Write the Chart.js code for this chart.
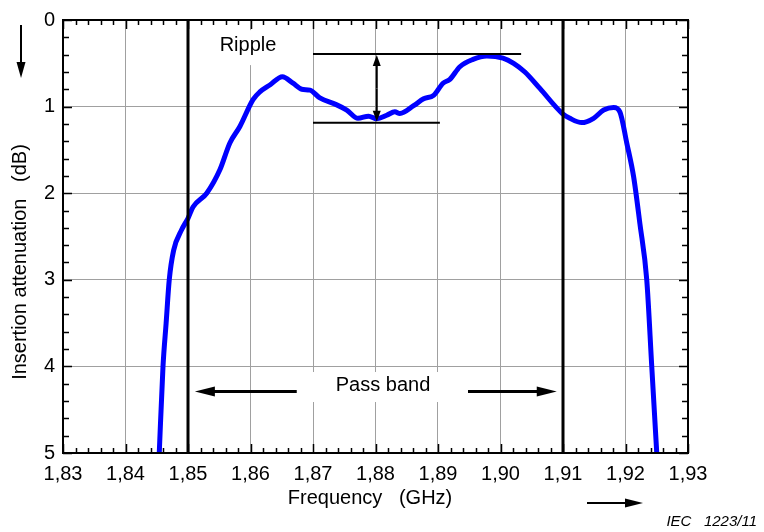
<!DOCTYPE html>
<html>
<head>
<meta charset="utf-8">
<script src="https://cdn.jsdelivr.net/npm/chart.js@4.4.1/dist/chart.umd.min.js"></script>
<style>
  html, body { margin: 0; padding: 0; background: #fff; }
  canvas { display: block; }
</style>
</head>
<body>
<canvas id="chart" width="764" height="532"></canvas>
<script>
const freqGHz = [
  1.8454, 1.8460, 1.8465, 1.8470, 1.8477, 1.8490, 1.8500, 1.8508, 1.8530, 1.8551,
  1.8567, 1.8583, 1.8604, 1.8615, 1.8631, 1.8651, 1.8668, 1.8682, 1.8695, 1.8711,
  1.8738, 1.8754, 1.8772, 1.8789, 1.8802, 1.8818, 1.8831, 1.8839, 1.8861, 1.8877,
  1.8893, 1.8908, 1.8919, 1.8935, 1.8956, 1.8978, 1.9004, 1.9021, 1.9039, 1.9063,
  1.9099, 1.9111, 1.9130, 1.9149, 1.9165, 1.9181, 1.9191, 1.9202, 1.9213, 1.9223,
  1.9234, 1.9242, 1.9250
]
const attenuationDb = [
  5.00, 4.00, 3.50, 3.00, 2.66, 2.42, 2.29, 2.16, 2.00, 1.73,
  1.42, 1.23, 0.92, 0.83, 0.75, 0.655, 0.73, 0.80, 0.81, 0.90,
  0.98, 1.04, 1.135, 1.11, 1.14, 1.10, 1.06, 1.08, 0.99, 0.91,
  0.87, 0.73, 0.685, 0.54, 0.455, 0.415, 0.44, 0.50, 0.60, 0.79,
  1.08, 1.135, 1.185, 1.135, 1.04, 1.01, 1.06, 1.42, 1.81, 2.35,
  3.00, 4.00, 5.00
]

const xTicks = [1.83, 1.84, 1.85, 1.86, 1.87, 1.88, 1.89, 1.90, 1.91, 1.92, 1.93]
const yTicks = [0, 1, 2, 3, 4, 5]
const bandEdges = [1.85, 1.91]

// annotation anchors (data units)
const rippleLabel = { text: 'Ripple', x: 1.8596, y: 0.29 }
const rippleTop = { y: 0.393, from: 1.87, to: 1.9033 }
const rippleBottom = { y: 1.186, from: 1.87, to: 1.8903 }
const rippleArrowX = 1.8802
const passLabel = { text: 'Pass band', x: 1.8812, y: 4.215 }
const passArrowY = 4.29
const passLeft = [1.8674, 1.8511]
const passRight = [1.8948, 1.9090]

const FONT = '"Liberation Sans", Arial, sans-serif'

function arrow(ctx, x1, y1, x2, y2, head, half, lw) {
  const a = Math.atan2(y2 - y1, x2 - x1)
  const bx = x2 - Math.cos(a) * head
  const by = y2 - Math.sin(a) * head
  ctx.lineWidth = lw
  ctx.beginPath()
  ctx.moveTo(x1, y1)
  ctx.lineTo(bx + Math.cos(a) * 2, by + Math.sin(a) * 2)
  ctx.stroke()
  ctx.beginPath()
  ctx.moveTo(x2, y2)
  ctx.lineTo(bx - Math.sin(a) * half, by + Math.cos(a) * half)
  ctx.lineTo(bx + Math.sin(a) * half, by - Math.cos(a) * half)
  ctx.closePath()
  ctx.fill()
}

const overlay = {
  id: 'overlay',
  beforeDatasetsDraw(chart) {
    const { ctx } = chart
    const x = chart.scales.x, y = chart.scales.y
    ctx.save()
    ctx.fillStyle = '#fff'
    ctx.font = '20px ' + FONT
    // white label boxes hide grid lines
    let cx = x.getPixelForValue(rippleLabel.x), cy = y.getPixelForValue(rippleLabel.y)
    let w = ctx.measureText(rippleLabel.text).width
    ctx.fillRect(cx - w / 2 - 9, cy - 15, w + 18, 35)
    cx = x.getPixelForValue(passLabel.x); cy = y.getPixelForValue(passLabel.y)
    w = ctx.measureText(passLabel.text).width
    ctx.fillRect(cx - w / 2 - 33, cy - 13, w + 66, 30)
    ctx.restore()
  },
  afterDraw(chart) {
    const { ctx, chartArea: ca } = chart
    const x = chart.scales.x, y = chart.scales.y
    ctx.save()
    ctx.strokeStyle = '#000'
    ctx.fillStyle = '#000'

    // inward ticks on all sides
    ctx.lineWidth = 1.5
    ctx.beginPath()
    for (let i = 0; i <= 50; i++) {
      const px = Math.round(x.getPixelForValue(1.83 + i * 0.002)) + 0.5
      const len = i % 5 === 0 ? 9 : 5
      ctx.moveTo(px, ca.bottom); ctx.lineTo(px, ca.bottom - len)
      ctx.moveTo(px, ca.top); ctx.lineTo(px, ca.top + len)
    }
    for (let i = 0; i <= 25; i++) {
      const py = Math.round(y.getPixelForValue(i * 0.2)) + 0.5
      const len = i % 5 === 0 ? 9 : 6
      ctx.moveTo(ca.left, py); ctx.lineTo(ca.left + len, py)
      ctx.moveTo(ca.right, py); ctx.lineTo(ca.right - len, py)
    }
    ctx.stroke()

    // frame
    ctx.lineWidth = 2
    ctx.strokeRect(ca.left, ca.top, ca.right - ca.left, ca.bottom - ca.top)

    // ripple markers
    ctx.lineWidth = 2
    ctx.beginPath()
    let py = y.getPixelForValue(rippleTop.y)
    ctx.moveTo(x.getPixelForValue(rippleTop.from), py); ctx.lineTo(x.getPixelForValue(rippleTop.to), py)
    py = y.getPixelForValue(rippleBottom.y)
    ctx.moveTo(x.getPixelForValue(rippleBottom.from), py); ctx.lineTo(x.getPixelForValue(rippleBottom.to), py)
    ctx.stroke()
    const ax = x.getPixelForValue(rippleArrowX)
    const t = y.getPixelForValue(rippleTop.y), b = y.getPixelForValue(rippleBottom.y)
    const mid = (t + b) / 2
    arrow(ctx, ax, mid, ax, t + 1, 11, 4, 2)
    arrow(ctx, ax, mid, ax, b - 1, 11, 4, 2)

    // pass band arrows
    const pY = y.getPixelForValue(passArrowY)
    arrow(ctx, x.getPixelForValue(passLeft[0]), pY, x.getPixelForValue(passLeft[1]), pY, 20, 5, 3)
    arrow(ctx, x.getPixelForValue(passRight[0]), pY, x.getPixelForValue(passRight[1]), pY, 20, 5, 3)

    // labels
    ctx.font = '20px ' + FONT
    ctx.textAlign = 'center'
    ctx.textBaseline = 'middle'
    ctx.fillText(rippleLabel.text, x.getPixelForValue(rippleLabel.x), y.getPixelForValue(rippleLabel.y))
    ctx.fillText(passLabel.text, x.getPixelForValue(passLabel.x), y.getPixelForValue(passLabel.y))

    // axis titles
    ctx.fillText('Frequency   (GHz)', 370, 498)
    ctx.save()
    ctx.translate(20, 262)
    ctx.rotate(-Math.PI / 2)
    ctx.fillText('Insertion attenuation   (dB)', 0, 0)
    ctx.restore()

    // direction arrows
    arrow(ctx, 21, 25, 21, 78, 16, 4.5, 2)
    arrow(ctx, 587, 503, 643, 503, 18, 4.5, 2)

    ctx.font = 'italic 15px ' + FONT
    ctx.textAlign = 'right'
    ctx.fillText('IEC   1223/11', 757, 522)
    ctx.restore()
  }
}

new Chart(document.getElementById('chart'), {
  type: 'line',
  data: {
    datasets: [
      {
        data: freqGHz.map((f, i) => ({ x: f, y: attenuationDb[i] })),
        borderColor: '#0000ff',
        borderWidth: 5,
        pointRadius: 0,
        cubicInterpolationMode: 'monotone',
        borderJoinStyle: 'round',
        order: 2
      },
      ...bandEdges.map(f => ({
        data: [{ x: f, y: 0 }, { x: f, y: 5 }],
        borderColor: '#000',
        borderWidth: 3,
        pointRadius: 0,
        order: 1
      }))
    ]
  },
  options: {
    responsive: false,
    animation: false,
    devicePixelRatio: 1,
    layout: { padding: { top: 20, right: 76, left: 0, bottom: 0 } },
    plugins: { legend: { display: false }, tooltip: { enabled: false } },
    scales: {
      x: {
        type: 'linear',
        min: 1.83,
        max: 1.93,
        afterBuildTicks: s => { s.ticks = xTicks.map(v => ({ value: v })) },
        afterFit: s => { s.height = 79 },
        grid: { color: '#a0a0a0', lineWidth: 1, drawTicks: false },
        border: { display: false },
        ticks: {
          padding: 9,
          color: '#000',
          font: { family: FONT, size: 20 },
          maxRotation: 0,
          autoSkip: false,
          callback: v => v.toFixed(2).replace('.', ',')
        }
      },
      y: {
        type: 'linear',
        reverse: true,
        min: 0,
        max: 5,
        afterBuildTicks: s => { s.ticks = yTicks.map(v => ({ value: v })) },
        afterFit: s => { s.width = 63 },
        grid: { color: '#a0a0a0', lineWidth: 1, drawTicks: false },
        border: { display: false },
        ticks: {
          padding: 8,
          color: '#000',
          font: { family: FONT, size: 20 },
          callback: v => String(v)
        }
      }
    }
  },
  plugins: [overlay]
})
</script>
</body>
</html>
